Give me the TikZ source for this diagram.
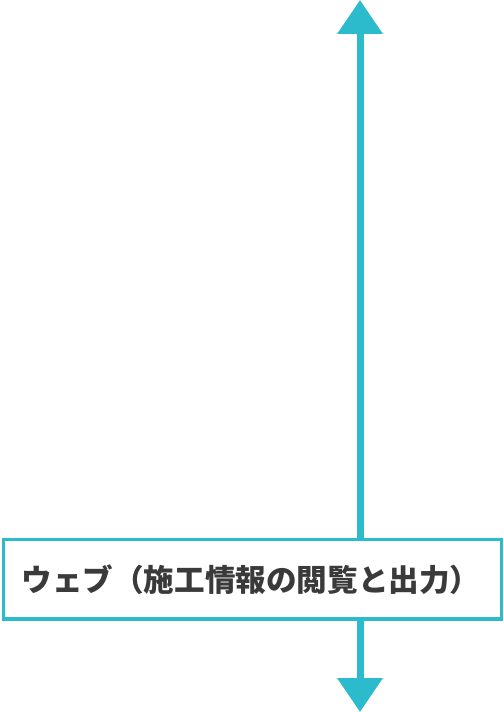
\documentclass[tikz,border=0pt]{standalone}
\usepackage{fontspec}
\usepackage{xcolor}
\usepackage{tikz}
\usetikzlibrary{positioning,arrows.meta}
\newfontfamily\jpfont{Noto Sans CJK JP}
\definecolor{cteal}{RGB}{44,187,204}
\definecolor{ctext}{RGB}{58,58,58}

\begin{document}
\begin{tikzpicture}[x=1bp, y=-1bp,
      box/.style={draw=cteal, fill=white, line width=3.5bp, minimum width=498bp, minimum height=79.5bp,
                  inner xsep=18bp, text width=462bp, align=left, text=ctext,
                  font=\jpfont\bfseries\fontsize{30.6bp}{36bp}\selectfont},
      arrow/.style={-{Triangle[width=44bp,length=34bp]}, line width=7bp, cteal}
    ]
    \useasboundingbox (0,0) rectangle (504,712);
    \coordinate (up) at (360,0);
    \coordinate (down) at (360,712);
    \node[box] (web) at (252.5,579.25) {ウェブ（施工情報の閲覧と出力）};
    \draw[arrow] (web.north -| up) -- (up);
    \draw[arrow] (web.south -| down) -- (down);
  \end{tikzpicture}
\end{document}
